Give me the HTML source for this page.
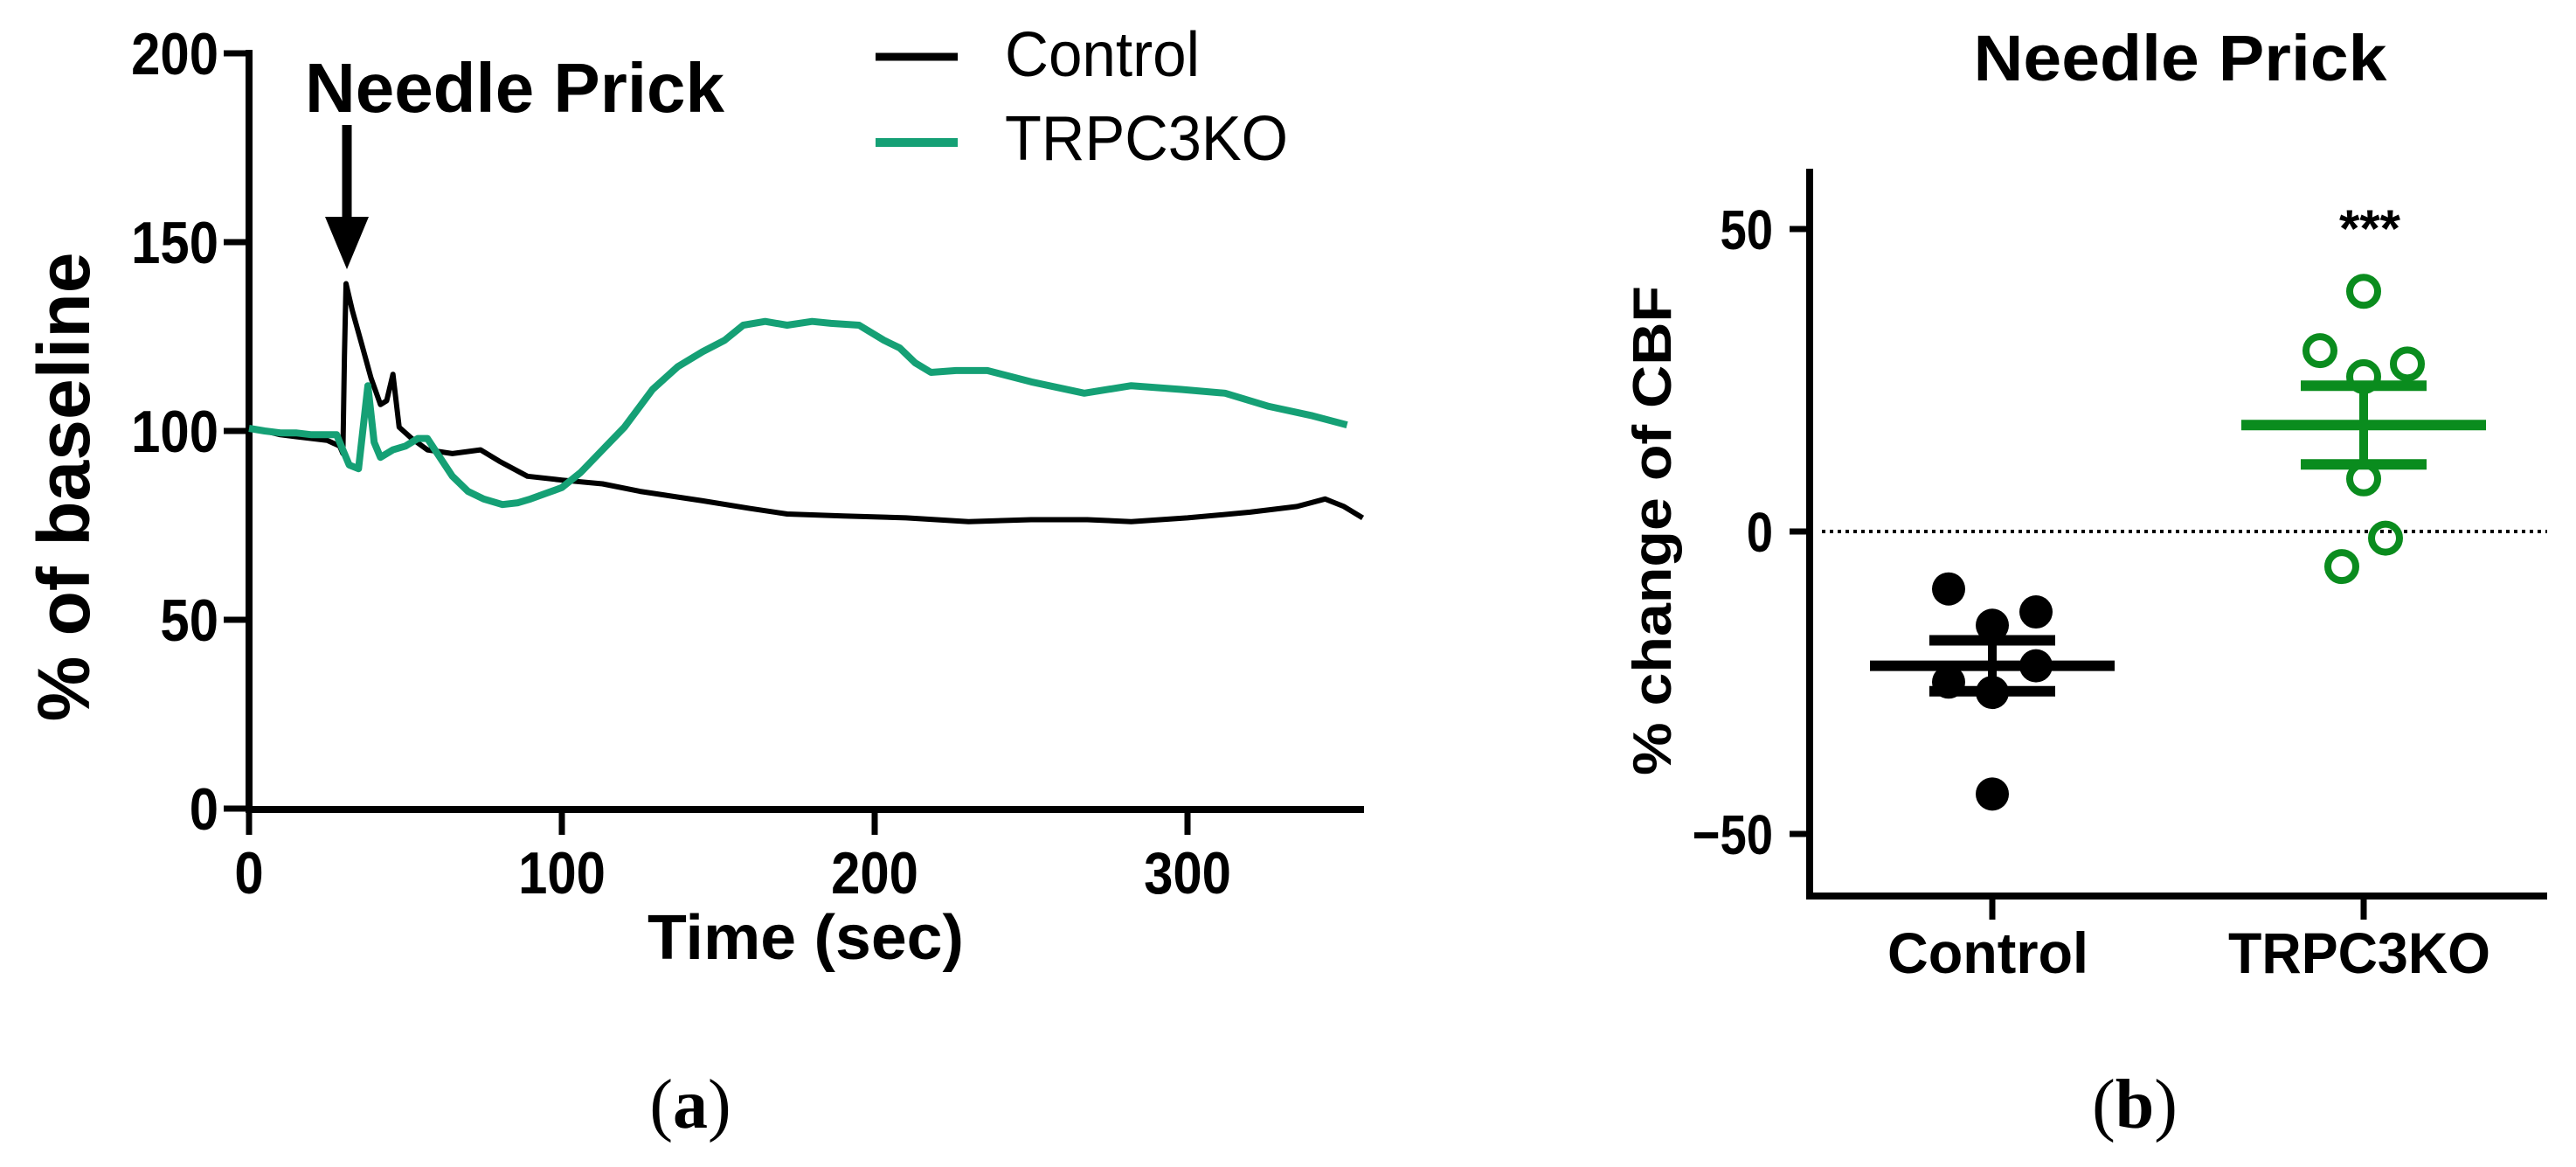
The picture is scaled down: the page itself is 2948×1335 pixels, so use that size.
<!DOCTYPE html>
<html><head><meta charset="utf-8"><style>
html,body{margin:0;padding:0;background:#fff;}
svg{display:block;font-family:"Liberation Sans",Arial,sans-serif;}
</style></head><body>
<svg id="fig" width="2948" height="1335" viewBox="0 0 2948 1335" xmlns="http://www.w3.org/2000/svg">
<g id="left"></g>
<g id="right"></g>
<text x="790" y="1290" font-family="Liberation Serif,serif" font-size="80" text-anchor="middle">(<tspan font-weight="bold">a</tspan>)</text>
<text x="2443" y="1290" font-family="Liberation Serif,serif" font-size="80" text-anchor="middle">(<tspan font-weight="bold">b</tspan>)</text>
</svg>
<script>
// ---- Left chart data ----
const ctrlTime = [0,5,10,15,20,25,29,30,30.5,31,33,36,39,42,44,46,48,52,57,65,74,80,89,100,113,125,145,160,172,190,210,230,250,268,282,300,320,335,344,350,356];
const ctrlVal  = [100.7,100,99,98.5,98,97.5,96,94,120,139,132,123,114,107,108,115,101,98,95,94,95,92,88,87,86,84,81.5,79.5,78,77.5,77,76,76.5,76.5,76,77,78.5,80,82,80,77];
const koTime = [0,5,10,15,20,25,28,30,32,35,38,40,42,46,50,54,57,61,65,70,75,81,86,90,95,100,106,113,120,129,137,145,152,158,165,172,180,186,195,203,208,213,218,226,236,250,267,282,298,312,326,340,351];
const koVal  = [100.7,100,99.5,99.5,99,99,99,95,91,90,112,97,93,95,96,98,98,93,88,84,82,80.5,81,82,83.5,85,89,95,101,111,117,121,124,128,129,128,129,128.5,128,124,122,118,115.5,116,116,113,110,112,111,110,106.5,104,101.6];
const yTicksL = [0,50,100,150,200];
const xTicksL = [0,100,200,300];
// ---- Right chart data ----
const groups = ["Control","TRPC3KO"];
const ctrlPts = [-9.5,-13.3,-15.5,-22.2,-24.9,-26.6,-43.4];
const ctrlJit = [-1,1,0,1,-1,0,0];
const koPts = [39.7,29.9,27.7,25.6,8.7,-1.1,-5.8];
const koJit = [0,-1,1,0,0,0.5,-0.5];
const means = [-22.2,17.6];
const sems = [4.2,6.5];
const yTicksR = [-50,0,50];

const NS="http://www.w3.org/2000/svg";
function mk(parent,tag,attrs,text){const e=document.createElementNS(NS,tag);for(const k in attrs)e.setAttribute(k,attrs[k]);if(text!==undefined)e.textContent=text;parent.appendChild(e);return e;}

// Left axes
const xL=t=>285+t*3.58, yL=v=>925-v*4.32;
const L=document.getElementById('left');
let e;
e=mk(L,'line',{x1:285,y1:57,x2:285,y2:929,stroke:'#000','stroke-width':8});


e=mk(L,'line',{x1:281,y1:926,x2:1561,y2:926,stroke:'#000','stroke-width':8});


yTicksL.forEach(v=>{
  e=mk(L,'line',{x1:256,y1:yL(v),x2:289,y2:yL(v),stroke:'#000','stroke-width':7});
  
  
  e=mk(L,'text',{x:250,y:yL(v)+24,'font-size':68,'font-weight':'bold','text-anchor':'end',transform:`translate(${250*0.12},0) scale(0.88,1)`},String(v));
  
  
});
xTicksL.forEach(t=>{
  e=mk(L,'line',{x1:xL(t),y1:922,x2:xL(t),y2:955,stroke:'#000','stroke-width':7});
  
  
  e=mk(L,'text',{x:xL(t)/0.88,y:1022,'font-size':68,'font-weight':'bold','text-anchor':'middle',transform:'scale(0.88,1)'},String(t));
  
  
});
e=mk(L,'text',{x:922,y:1097,'font-size':72,'font-weight':'bold','text-anchor':'middle',textLength:362,lengthAdjust:'spacingAndGlyphs'},'Time (sec)');


e=mk(L,'text',{x:0,y:0,'font-size':84,'font-weight':'bold','text-anchor':'middle',transform:'translate(102,557) rotate(-90)'},'% of baseline');


// series
function poly(ts,vs,col,w,name){
  const p=ts.map((t,i)=>xL(t).toFixed(1)+','+yL(vs[i]).toFixed(1)).join(' ');
  const el=mk(L,'polyline',{points:p,fill:'none',stroke:col,'stroke-width':w,'stroke-linejoin':'round'});
  
  
}
poly(ctrlTime,ctrlVal,'#000',6,'control-line');
poly(koTime,koVal,'#15a075',8,'trpc3ko-line');
// annotation
e=mk(L,'text',{x:349,y:128,'font-size':80,'font-weight':'bold',textLength:480,lengthAdjust:'spacingAndGlyphs'},'Needle Prick');


e=mk(L,'line',{x1:397,y1:143,x2:397,y2:252,stroke:'#000','stroke-width':11});


e=mk(L,'polygon',{points:'372,248 422,248 397,308',fill:'#000'});


// legend
e=mk(L,'line',{x1:1002,y1:65,x2:1096,y2:65,stroke:'#000','stroke-width':9});


e=mk(L,'text',{x:1150,y:87,'font-size':72,textLength:223,lengthAdjust:'spacingAndGlyphs'},'Control');


e=mk(L,'line',{x1:1002,y1:163,x2:1096,y2:163,stroke:'#15a075','stroke-width':10});


e=mk(L,'text',{x:1150,y:183,'font-size':72,textLength:324,lengthAdjust:'spacingAndGlyphs'},'TRPC3KO');



// Right chart
const R=document.getElementById('right');
const yR=v=>608-v*6.92;
const gx=[2280,2705];
const xR=(g,j)=>gx[g]+j*50;
e=mk(R,'line',{x1:2071,y1:193,x2:2071,y2:1029,stroke:'#000','stroke-width':8});


e=mk(R,'line',{x1:2067,y1:1025,x2:2915,y2:1025,stroke:'#000','stroke-width':8});


yTicksR.forEach(v=>{
  e=mk(R,'line',{x1:2048,y1:yR(v),x2:2073,y2:yR(v),stroke:'#000','stroke-width':7});
  
  
  e=mk(R,'text',{x:2029/0.85,y:yR(v)+23,'font-size':64,'font-weight':'bold','text-anchor':'end',transform:'scale(0.85,1)'},v<0?'\u2212'+Math.abs(v):String(v));
  
  
});
e=mk(R,'line',{x1:2085,y1:608,x2:2915,y2:608,stroke:'#000','stroke-width':4,'stroke-dasharray':'4 5'});


groups.forEach((g,i)=>{
  e=mk(R,'line',{x1:gx[i],y1:1021,x2:gx[i],y2:1052,stroke:'#000','stroke-width':7});
  
  
  e=mk(R,'text',{x:gx[i]-5,y:1113,'font-size':66,'font-weight':'bold','text-anchor':'middle',textLength:i?300:230,lengthAdjust:'spacingAndGlyphs'},g);
  
  
});
ctrlPts.forEach((v,i)=>{
  e=mk(R,'circle',{cx:xR(0,ctrlJit[i]),cy:yR(v),r:19,fill:'#000'});
  
  
});
koPts.forEach((v,i)=>{
  e=mk(R,'circle',{cx:xR(1,koJit[i]),cy:yR(v),r:16,fill:'none',stroke:'#0a8c1e','stroke-width':8});
  
  
});
const cols=['#000','#0a8c1e'];
means.forEach((m,i)=>{
  const c=cols[i], x=gx[i];
  e=mk(R,'line',{x1:x-140,y1:yR(m),x2:x+140,y2:yR(m),stroke:c,'stroke-width':12});
  
  
  e=mk(R,'line',{x1:x-72,y1:yR(m+sems[i]),x2:x+72,y2:yR(m+sems[i]),stroke:c,'stroke-width':12});
  
  
  e=mk(R,'line',{x1:x-72,y1:yR(m-sems[i]),x2:x+72,y2:yR(m-sems[i]),stroke:c,'stroke-width':12});
  
  
  e=mk(R,'line',{x1:x,y1:yR(m+sems[i]),x2:x,y2:yR(m-sems[i]),stroke:c,'stroke-width':10});
  
  
});
e=mk(R,'text',{x:2712,y:282,'font-size':60,'font-weight':'bold','text-anchor':'middle'},'***');


e=mk(R,'text',{x:2495,y:92,'font-size':74,'font-weight':'bold','text-anchor':'middle',textLength:473,lengthAdjust:'spacingAndGlyphs'},'Needle Prick');


e=mk(R,'text',{x:0,y:0,'font-size':62,'font-weight':'bold','text-anchor':'middle',transform:'translate(1912,607) rotate(-90)',textLength:560,lengthAdjust:'spacingAndGlyphs'},'% change of CBF');


</script>
</body></html>
